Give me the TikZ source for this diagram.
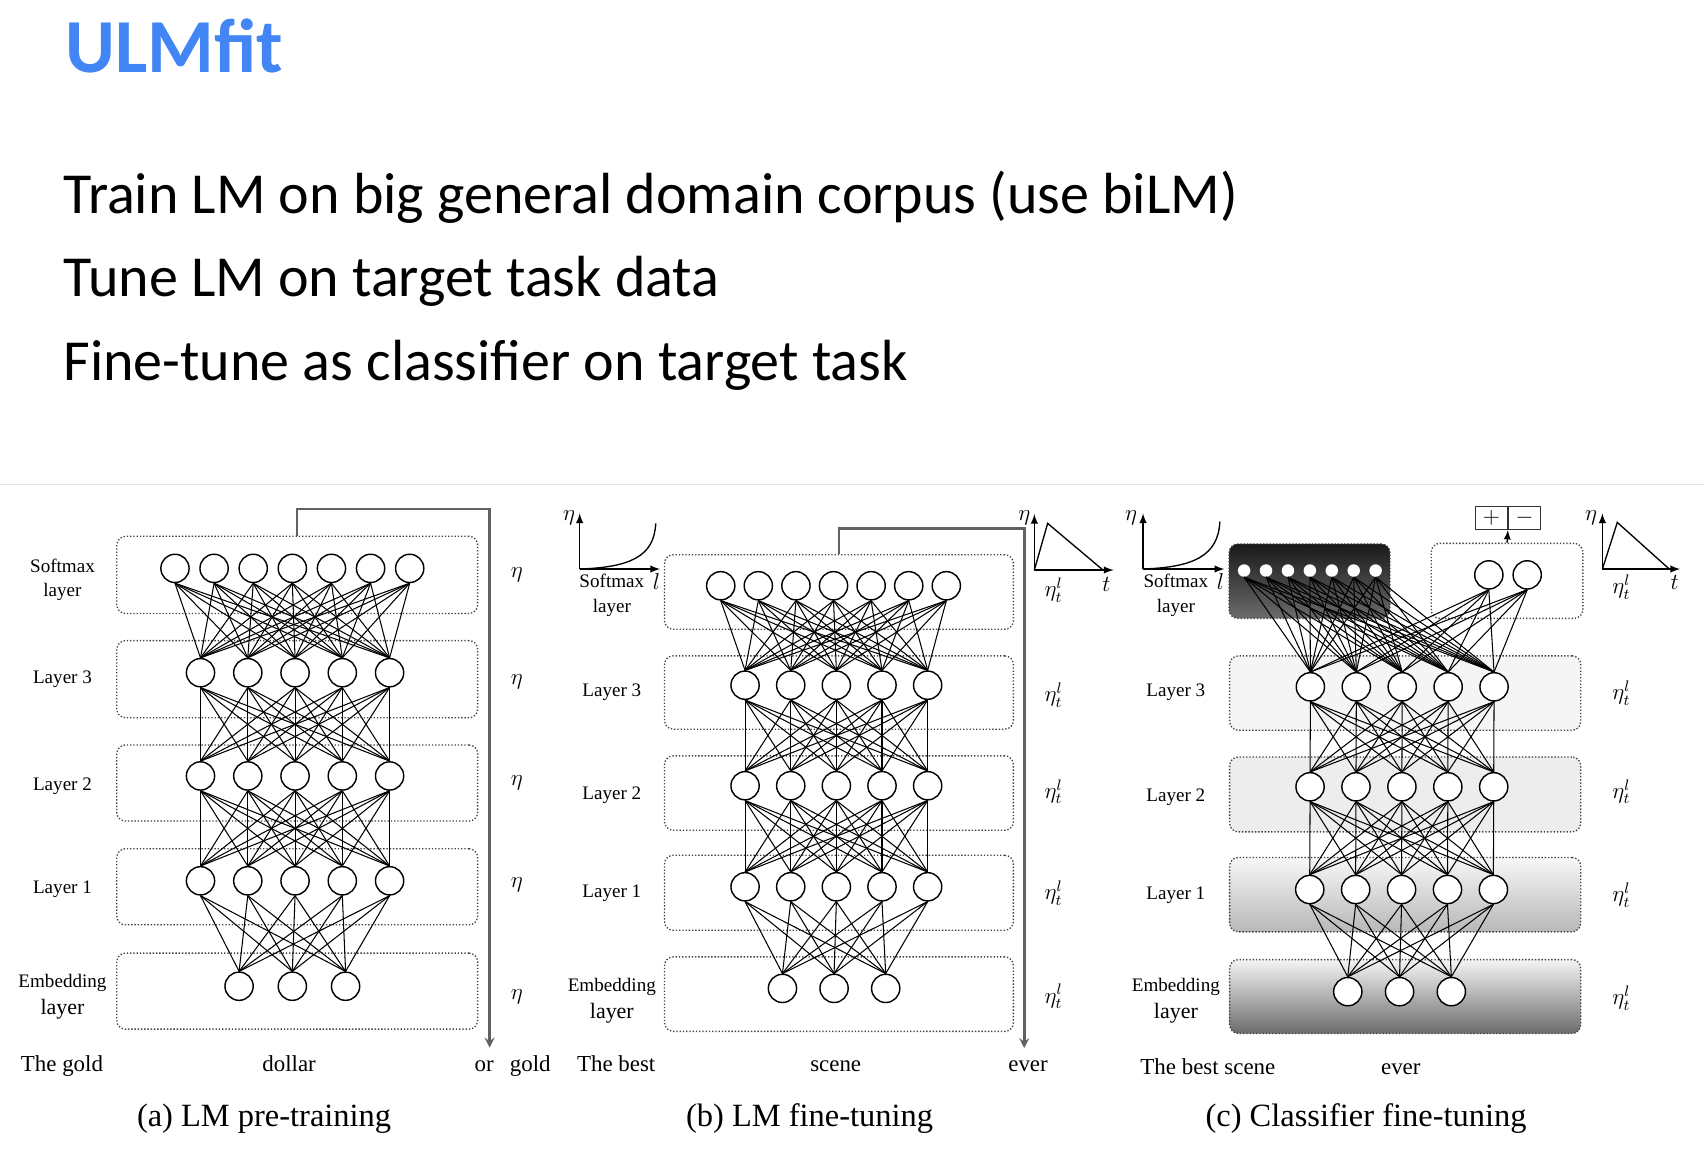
\documentclass[tikz,border=0pt]{standalone}
\usepackage{fontspec}
\setmainfont{Liberation Serif}
\newfontfamily\slidefont{Carlito}
\usetikzlibrary{arrows,fit,backgrounds}
\definecolor{titleblue}{RGB}{66,133,244}

\begin{document}
\begin{tikzpicture}[x=0.02cm,y=-0.02cm]
        \tikzstyle{neuron}=[
            circle,
            draw=black,
            fill=white,
            line width=0.75pt,
            minimum size=0.52cm,
            inner sep=0pt
        ]
        \tikzstyle{tinyneuron}=[
            circle,
            fill=white,
            minimum size=0.23cm,
            inner sep=0pt
        ]
        \tikzstyle{layerbox}=[
            draw=black!75,
            densely dotted,
            line width=0.7pt,
            rounded corners=0.16cm,
            inner sep=0pt
        ]
        \tikzstyle{signbox}=[
            draw=black!80,
            line width=0.7pt,
            minimum width=0.59cm,
            minimum height=0.42cm,
            inner sep=0pt,
            font=\fontsize{12}{12}\selectfont
        ]
        \tikzstyle{wire}=[line width=0.55pt, black]
        \tikzstyle{flow}=[-stealth, line width=1.3pt, black!62]
        \tikzstyle{plotaxis}=[-latex, line width=0.75pt]
        \tikzstyle{lbl}=[font=\fontsize{10}{13}\selectfont, align=center, inner sep=0pt]
        \tikzstyle{word}=[font=\fontsize{12}{14}\selectfont, anchor=base, inner sep=0pt]
        \tikzstyle{caption}=[font=\fontsize{17}{20}\selectfont, anchor=base, inner sep=0pt]
        \tikzstyle{rate}=[font=\fontsize{12}{14}\selectfont, inner sep=0pt]

        \useasboundingbox (0,0) rectangle (1568,1059);

        % slide text
        \node[anchor=base west, inner sep=0pt, text=titleblue,
              font=\slidefont\bfseries\fontsize{40}{48}\selectfont] (title) at (60,67) {ULMfit};
        \node[anchor=base west, inner sep=0pt, font=\slidefont\fontsize{30.4}{36}\selectfont] (pt1) at (58,196) {Train LM on big general domain corpus (use biLM)};
        \node[anchor=base west, inner sep=0pt, font=\slidefont\fontsize{30.4}{36}\selectfont] (pt2) at (58,273) {Tune LM on target task data};
        \node[anchor=base west, inner sep=0pt, font=\slidefont\fontsize{30.4}{36}\selectfont] (pt3) at (58,350) {Fine-tune as classifier on target task};
        \draw[black!10, line width=0.8pt] (0,446) -- (1568,446);

        % (a) LM pre-training
        \node[layerbox, fit={(107.5,493.5) (439.5,564.5)}] (a-box-soft) {};
        \node[layerbox, fit={(107.5,589.5) (439.5,660.5)}] (a-box-l3) {};
        \node[layerbox, fit={(107.5,685.5) (439.5,755.5)}] (a-box-l2) {};
        \node[layerbox, fit={(107.5,781) (439.5,851)}] (a-box-l1) {};
        \node[layerbox, fit={(107.5,877) (439.5,947)}] (a-box-emb) {};

        \foreach \i in {0,...,6} \node[neuron] (a-soft-\i) at ({161+36*\i},523) {};
        \foreach \i in {0,...,4} \node[neuron] (a-l3-\i) at ({184.5+43.5*\i},619) {};
        \foreach \i in {0,...,4} \node[neuron] (a-l2-\i) at ({184.5+43.5*\i},714) {};
        \foreach \i in {0,...,4} \node[neuron] (a-l1-\i) at ({184.5+43.5*\i},810.5) {};
        \foreach \i in {0,...,2} \node[neuron] (a-emb-\i) at ({220+49*\i},907.5) {};

        \foreach \i in {0,...,6} \foreach \j in {0,...,4} \draw[wire] (a-soft-\i.south) -- (a-l3-\j.north);
        \foreach \i in {0,...,4} \foreach \j in {0,...,4} \draw[wire] (a-l3-\i.south) -- (a-l2-\j.north);
        \foreach \i in {0,...,4} \foreach \j in {0,...,4} \draw[wire] (a-l2-\i.south) -- (a-l1-\j.north);
        \foreach \i in {0,...,4} \foreach \j in {0,...,2} \draw[wire] (a-l1-\i.south) -- (a-emb-\j.north);

        \coordinate (a-out) at (450.5,964);
        \draw[flow] (a-box-soft.north) -- ++(0,-24.5) -| (a-out);

        \node[lbl] (a-lab-soft) at (57.5,533.5) {Softmax\\layer};
        \node[lbl, anchor=base] (a-lab-l3) at (57.5,628.5) {Layer 3};
        \node[lbl, anchor=base] (a-lab-l2) at (57.5,727) {Layer 2};
        \node[lbl, anchor=base] (a-lab-l1) at (57.5,822) {Layer 1};
        \node[lbl, font=\fontsize{10}{14.2}\selectfont] (a-lab-emb) at (57.5,917.5) {Embedding\\{\fontsize{11.5}{14.2}\selectfont layer}};

        \foreach \y [count=\k] in {529,627,720.5,814,917} \node[rate] (a-rate-\k) at (475.5,\y) {$\eta$};

        \node[word] (a-w1) at (57,986) {The gold};
        \node[word] (a-w2) at (266,986) {dollar};
        \node[word] (a-w3) at (445.5,986) {or};
        \node[word] (a-w4) at (488,986) {gold};
        \node[caption] (a-cap) at (243,1037) {(a) LM pre-training};

        % (b) LM fine-tuning
        \node[layerbox, fit={(611.5,510.5) (932.5,579)}] (b-box-soft) {};
        \node[layerbox, fit={(611.5,603.5) (932.5,671)}] (b-box-l3) {};
        \node[layerbox, fit={(611.5,695.5) (932.5,764)}] (b-box-l2) {};
        \node[layerbox, fit={(611.5,787) (932.5,856)}] (b-box-l1) {};
        \node[layerbox, fit={(611.5,880.5) (932.5,949)}] (b-box-emb) {};

        \foreach \i in {0,...,6} \node[neuron] (b-soft-\i) at ({663.2+34.6*\i},539) {};
        \foreach \i in {0,...,4} \node[neuron] (b-l3-\i) at ({685.6+42*\i},630.5) {};
        \foreach \i in {0,...,4} \node[neuron] (b-l2-\i) at ({685.6+42*\i},723) {};
        \foreach \i in {0,...,4} \node[neuron] (b-l1-\i) at ({685.6+42*\i},816) {};
        \foreach \i in {0,...,2} \node[neuron] (b-emb-\i) at ({720+47.5*\i},909.5) {};

        \foreach \i in {0,...,6} \foreach \j in {0,...,4} \draw[wire] (b-soft-\i.south) -- (b-l3-\j.north);
        \foreach \i in {0,...,4} \foreach \j in {0,...,4} \draw[wire] (b-l3-\i.south) -- (b-l2-\j.north);
        \foreach \i in {0,...,4} \foreach \j in {0,...,4} \draw[wire] (b-l2-\i.south) -- (b-l1-\j.north);
        \foreach \i in {0,...,4} \foreach \j in {0,...,2} \draw[wire] (b-l1-\i.south) -- (b-emb-\j.north);

        \coordinate (b-out) at (942.5,964.5);
        \draw[flow] (b-box-soft.north) -- ++(0,-23.5) -| (b-out);

        \node[lbl] (b-lab-soft) at (563,548) {Softmax\\layer};
        \node[lbl, anchor=base] (b-lab-l3) at (563,641) {Layer 3};
        \node[lbl, anchor=base] (b-lab-l2) at (563,736) {Layer 2};
        \node[lbl, anchor=base] (b-lab-l1) at (563,826) {Layer 1};
        \node[lbl, font=\fontsize{10}{14.2}\selectfont] (b-lab-emb) at (563,920.5) {Embedding\\{\fontsize{11.5}{14.2}\selectfont layer}};

        \foreach \y [count=\k] in {543,639.5,728.5,822,917} \node[rate] (b-rate-\k) at (969.5,\y) {$\eta^l_t$};

        % slanted learning rates
        \coordinate (b-lr-o) at (533.4,523.6);
        \coordinate (b-lr-y) at (533.4,472.4);
        \coordinate (b-lr-x) at (607.4,523.6);
        \draw[plotaxis] (b-lr-o) -- (b-lr-y);
        \draw[plotaxis] (b-lr-o) -- (b-lr-x);
        \draw[line width=0.7pt] (b-lr-o) .. controls (580,522) and (602,512) .. (603.4,481.6);
        \node[rate] (b-lr-eta) at (523.7,476.7) {$\eta$};
        \node[rate] (b-lr-l) at (604,535) {$l$};

        \coordinate (b-tr-o) at (951.8,524.5);
        \coordinate (b-tr-y) at (951.8,473);
        \coordinate (b-tr-x) at (1024.7,524.5);
        \draw[plotaxis] (b-tr-o) -- (b-tr-y);
        \draw[plotaxis] (b-tr-o) -- (b-tr-x);
        \draw[line width=0.7pt] (b-tr-o) -- (964,481.6) -- (1014.9,524.5);
        \node[rate] (b-tr-eta) at (942.6,476.7) {$\eta$};
        \node[rate] (b-tr-t) at (1018,538) {$t$};

        \node[word] (b-w1) at (567,986) {The best};
        \node[word] (b-w2) at (769,986) {scene};
        \node[word] (b-w3) at (946,986) {ever};
        \node[caption] (b-cap) at (745,1037) {(b) LM fine-tuning};

        % (c) Classifier fine-tuning
        \node[layerbox, top color=black!90, bottom color=black!58, fit={(1131,500.5) (1279,569)}] (c-box-soft) {};
        \node[layerbox, fit={(1317,500) (1456.5,569)}] (c-box-cls) {};
        \node[layerbox, fill=black!4, fit={(1131.5,603.5) (1454.5,672)}] (c-box-l3) {};
        \node[layerbox, fill=black!7, fit={(1131.5,696.5) (1454.5,765.5)}] (c-box-l2) {};
        \node[layerbox, top color=black!3, bottom color=black!28, fit={(1131.5,789) (1454.5,857.5)}] (c-box-l1) {};
        \node[layerbox, top color=black!4, bottom color=black!58, fit={(1131.5,883) (1454.5,951)}] (c-box-emb) {};

        \foreach \i in {0,...,6} \node[tinyneuron] (c-soft-\i) at ({1144.8+20.17*\i},525) {};
        \node[neuron] (c-cls-0) at (1370,529) {};
        \node[neuron] (c-cls-1) at (1405.3,529) {};
        \foreach \i in {0,...,4} \node[neuron] (c-l3-\i) at ({1205.8+42.25*\i},632) {};
        \foreach \i in {0,...,4} \node[neuron] (c-l2-\i) at ({1205.5+42.25*\i},724) {};
        \foreach \i in {0,...,4} \node[neuron] (c-l1-\i) at ({1205.2+42.25*\i},818.5) {};
        \foreach \i in {0,...,2} \node[neuron] (c-emb-\i) at ({1240.2+47.65*\i},912.5) {};

        \foreach \i in {0,...,6} \foreach \j in {0,...,4} \draw[wire] (c-soft-\i.south) -- (c-l3-\j.north);
        \foreach \i in {0,1} \foreach \j in {0,...,4} \draw[wire] (c-cls-\i.south) -- (c-l3-\j.north);
        \foreach \i in {0,...,4} \foreach \j in {0,...,4} \draw[wire] (c-l3-\i.south) -- (c-l2-\j.north);
        \foreach \i in {0,...,4} \foreach \j in {0,...,4} \draw[wire] (c-l2-\i.south) -- (c-l1-\j.north);
        \foreach \i in {0,...,4} \foreach \j in {0,...,2} \draw[wire] (c-l1-\i.south) -- (c-emb-\j.north);

        \node[signbox] (c-plus) at (1372.2,476.6) {$+$};
        \node[signbox, anchor=west] (c-minus) at (c-plus.east) {$-$};
        \draw[-latex, line width=0.7pt] (c-box-cls.north) -- (c-plus.south east);

        \node[lbl] (c-lab-soft) at (1082,548) {Softmax\\layer};
        \node[lbl, anchor=base] (c-lab-l3) at (1082,641) {Layer 3};
        \node[lbl, anchor=base] (c-lab-l2) at (1082,737.5) {Layer 2};
        \node[lbl, anchor=base] (c-lab-l1) at (1082,828) {Layer 1};
        \node[lbl, font=\fontsize{10}{14.2}\selectfont] (c-lab-emb) at (1082,921) {Embedding\\{\fontsize{11.5}{14.2}\selectfont layer}};

        \foreach \y [count=\k] in {540,638,728.5,823.5,918.5} \node[rate] (c-rate-\k) at (1492,\y) {$\eta^l_t$};

        \coordinate (c-lr-o) at (1051.8,523.6);
        \coordinate (c-lr-y) at (1051.8,472.4);
        \coordinate (c-lr-x) at (1126.6,523.6);
        \draw[plotaxis] (c-lr-o) -- (c-lr-y);
        \draw[plotaxis] (c-lr-o) -- (c-lr-x);
        \draw[line width=0.7pt] (c-lr-o) .. controls (1099,522) and (1121,511) .. (1122.5,480);
        \node[rate] (c-lr-eta) at (1040.8,476) {$\eta$};
        \node[rate] (c-lr-l) at (1123,535) {$l$};

        \coordinate (c-tr-o) at (1474.5,523.6);
        \coordinate (c-tr-y) at (1474.5,472.4);
        \coordinate (c-tr-x) at (1546,523.6);
        \draw[plotaxis] (c-tr-o) -- (c-tr-y);
        \draw[plotaxis] (c-tr-o) -- (c-tr-x);
        \draw[line width=0.7pt] (c-tr-o) -- (1488.2,480.7) -- (1536,523.6);
        \node[rate] (c-tr-eta) at (1464,476) {$\eta$};
        \node[rate] (c-tr-t) at (1541,536) {$t$};

        \node[word] (c-w1) at (1111.5,989) {The best scene};
        \node[word] (c-w2) at (1289,989) {ever};
        \node[caption] (c-cap) at (1257,1037) {(c) Classifier fine-tuning};

    \end{tikzpicture}
\end{document}
